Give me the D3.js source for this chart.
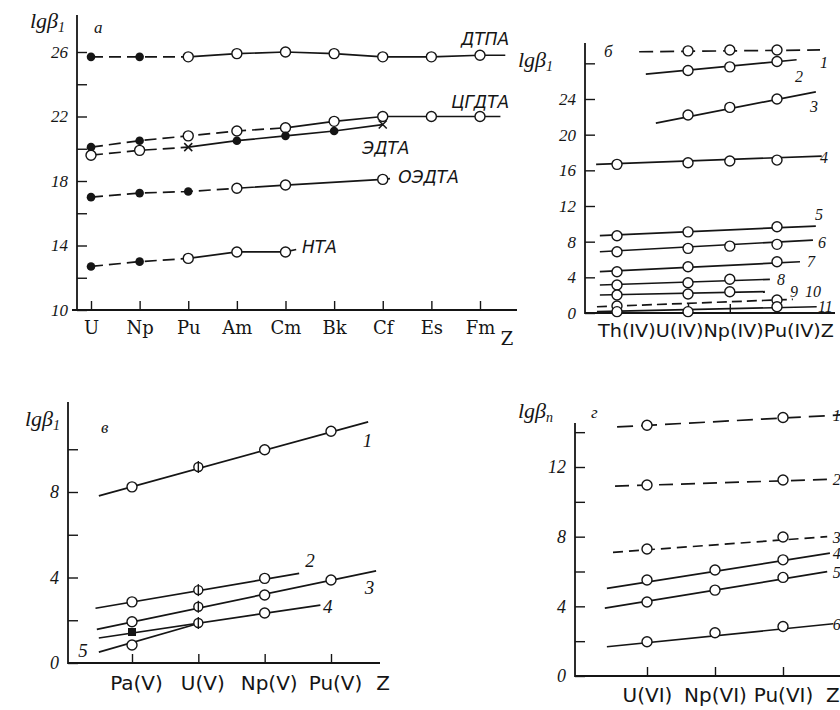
<!DOCTYPE html>
<html><head><meta charset="utf-8">
<script src="https://cdn.jsdelivr.net/npm/d3@7/dist/d3.min.js"></script>
<style>
body{margin:0;background:#fff;}
svg{display:block;background:#fff;}
</style></head><body>
<svg id="c" width="840" height="710"></svg>
<script>
// ---------- DATA ----------
// Panel а: trivalent actinides
const catsA = ["U","Np","Pu","Am","Cm","Bk","Cf","Es","Fm"];
const namesA = ["ДТПА","ЦГДТА","ЭДТА","ОЭДТА","НТА"];
const valuesA = [
  [25.7,25.7,25.7,25.9,26.0,25.9,25.7,25.7,25.8],
  [20.1,20.5,20.8,21.1,21.3,21.7,22.0,22.0,22.0],
  [19.6,19.9,20.1,20.5,20.8,21.1,21.5],
  [17.0,17.25,17.35,17.55,17.75,null,18.1],
  [12.7,13.0,13.2,13.6,13.6]
];
const marksA = [
  ["f","f","o","o","o","o","o","o","o"],
  ["f","f","o","o","o","o","o","o","o"],
  ["o","o","x","f","f","f","x"],
  ["f","f","f","o","o",null,"o"],
  ["f","f","o","o","o"]
];
const dashedUpToA = [2,4,2,3,2];
const tailA = [[8.52,25.8],[8.42,22.0],null,[6.15,18.15],[4.22,13.75]];

// Panel б: tetravalent actinides
const catsB = ["Th(IV)","U(IV)","Np(IV)","Pu(IV)"];
const posB = [0,1.7,2.7,3.83];
const namesB = ["1","2","3","4","5","6","7","8","9","10","11"];
const valuesB = [
  [null,29.4,29.5,29.5],
  [null,27.2,27.6,28.2],
  [null,22.2,23.06,24.0],
  [16.67,16.85,17.04,17.15],
  [8.67,9.1,null,9.67],
  [6.87,7.25,7.5,7.7],
  [4.63,5.19,null,5.75],
  [3.14,3.4,3.78,null],
  [2.02,2.13,2.39,null],
  [0.78,null,null,1.46],
  [0.15,0.15,null,0.7]
];
const fitB = [
  [0.53,29.3,4.86,29.5],[0.69,26.8,4.3,28.4],[0.93,21.3,4.76,24.8],
  [-0.5,16.67,4.9,17.6],[-0.41,8.67,4.76,9.75],[-0.41,6.87,4.69,8.18],
  [-0.41,4.63,4.38,5.75],[-0.41,3.14,3.66,3.78],[-0.41,2.02,3.54,2.39],
  [-0.48,0.7,4.21,1.53],[-0.48,0.15,4.78,0.7]
];
const dashB = ["14,7",null,null,null,null,null,null,null,null,"10,5",null];

// Panel в: pentavalent actinides
const catsC = ["Pa(V)","U(V)","Np(V)","Pu(V)"];
const namesC = ["1","2","3","4","5"];
const valuesC = [
  [8.24,9.17,9.98,10.84],
  [2.86,3.41,3.96,null],
  [1.93,2.63,3.18,3.88],
  [1.45,1.87,2.34,null],
  [0.84,null,null,null]
];
const marksC = [
  ["o","p","o","o"],["o","p","o",null],["o","p","o","o"],["s","p","o",null],["o",null,null,null]
];
const fitC = [
  [-0.5,7.82,3.56,11.28],[-0.55,2.56,2.52,4.19],[-0.53,1.57,3.68,4.31],
  [-0.5,1.17,2.84,2.71],[-0.5,0.51,1.0,1.85]
];

// Panel г: hexavalent actinides
const catsD = ["U(VI)","Np(VI)","Pu(VI)"];
const namesD = ["1","2","3","4","5","6"];
const valuesD = [
  [14.4,null,14.84],
  [10.97,null,11.25],
  [7.29,null,7.98],
  [5.51,6.09,6.67],
  [4.25,4.93,5.66],
  [1.97,2.48,2.84]
];
const fitD = [
  [-0.44,14.3,2.9,15.0],[-0.47,10.9,2.74,11.3],[-0.5,7.1,2.65,8.0],
  [-0.59,5.03,2.69,7.05],[-0.62,3.9,2.65,5.99],[-0.59,1.68,2.74,3.0]
];
const dashD = ["16,8","14,8","10,6",null,null,null];

// ---------- LAYOUT ----------
const INK = "#151515";
const SERIF = "'Liberation Serif', 'Times New Roman', serif";
const svg = d3.select("#c");

function setFont(sel, family, size, italic) {
  sel.style("font-family", family).style("font-size", size + "px")
     .style("font-style", italic ? "italic" : "normal").style("fill", INK);
  return sel;
}
function drawYAxis(scale, x0, top, ticks, labelled, fs) {
  const g = svg.append("g").attr("transform", `translate(${x0},0)`);
  g.call(d3.axisLeft(scale).tickValues(ticks).tickSizeInner(-10).tickSizeOuter(0).tickPadding(9)
    .tickFormat(d => labelled.indexOf(d) >= 0 ? String(d) : ""));
  g.select(".domain").remove();
  g.selectAll(".tick line").attr("stroke", INK).attr("stroke-width", 1.4);
  setFont(g.selectAll(".tick text"), SERIF, fs, true);
  svg.append("line").attr("x1", x0).attr("x2", x0).attr("y1", top)
    .attr("y2", scale(scale.domain()[0]) + 1).attr("stroke", INK).attr("stroke-width", 1.8);
}
function drawXAxis(scale, y0, xa, xb, tickVals, labels, fs, family, pad, dx) {
  const g = svg.append("g").attr("transform", `translate(0,${y0})`);
  g.call(d3.axisBottom(scale).tickValues(tickVals).tickSizeInner(-9).tickSizeOuter(0).tickPadding(pad)
    .tickFormat((d, i) => labels ? labels[i] : ""));
  g.select(".domain").remove();
  g.selectAll(".tick line").attr("stroke", INK).attr("stroke-width", 1.4);
  setFont(g.selectAll(".tick text"), family, fs, false).attr("dx", dx || 0);
  svg.append("line").attr("x1", xa).attr("x2", xb).attr("y1", y0).attr("y2", y0)
    .attr("stroke", INK).attr("stroke-width", 1.8);
}
function yTitle(x, y, sub) {
  const t = svg.append("text").attr("x", x).attr("y", y);
  setFont(t, SERIF, 22, true);
  t.append("tspan").text("lgβ");
  t.append("tspan").attr("dy", 4).style("font-size", "14px").text(sub);
}
function txt(x, y, s, fs, opts) {
  opts = opts || {};
  const t = svg.append("text").attr("x", x).attr("y", y)
    .attr("text-anchor", opts.anchor || "start").text(s);
  setFont(t, opts.family || SERIF, fs, opts.italic !== false);
  return t;
}
function marker(x, y, type) {
  if (!type) return;
  if (type === "o") {
    svg.append("circle").attr("cx", x).attr("cy", y).attr("r", 5)
      .attr("fill", "#fff").attr("stroke", INK).attr("stroke-width", 1.4);
  } else if (type === "f") {
    svg.append("circle").attr("cx", x).attr("cy", y).attr("r", 4.3).attr("fill", INK);
  } else if (type === "x") {
    svg.append("path").attr("d", `M${x-4},${y-4}L${x+4},${y+4}M${x-4},${y+4}L${x+4},${y-4}`)
      .attr("stroke", INK).attr("stroke-width", 1.5);
  } else if (type === "p") {
    svg.append("circle").attr("cx", x).attr("cy", y).attr("r", 4.5)
      .attr("fill", "#fff").attr("stroke", INK).attr("stroke-width", 1.4);
    svg.append("line").attr("x1", x).attr("x2", x).attr("y1", y - 6).attr("y2", y + 6)
      .attr("stroke", INK).attr("stroke-width", 1.4);
  } else if (type === "s") {
    svg.append("rect").attr("x", x - 4).attr("y", y - 4).attr("width", 8).attr("height", 8)
      .attr("fill", INK);
  }
}
function path(pts, xs, ys, dash) {
  if (pts.length < 2) return;
  svg.append("path").attr("d", d3.line().x(d => xs(d[0])).y(d => ys(d[1]))(pts))
    .attr("fill", "none").attr("stroke", INK).attr("stroke-width", 1.7)
    .attr("stroke-dasharray", dash || null);
}

// ---------- PANEL а ----------
const xA = d3.scaleLinear().domain([0, 8]).range([91, 480]);
const yA = d3.scaleLinear().domain([10, 26]).range([310, 52]);
drawYAxis(yA, 77, 15, d3.range(10, 27, 2), [10, 14, 18, 22, 26], 17);
drawXAxis(xA, 310, 72, 517, d3.range(9), catsA, 18, "'DejaVu Serif', serif", 11);
txt(507, 332, "Z", 18, {family: "'DejaVu Serif', serif", italic: false, anchor: "middle"}).attr("dy", "0.71em");
yTitle(30, 28, "1");
txt(94, 33, "а", 17);

valuesA.forEach((vals, s) => {
  const pts = vals.map((v, i) => v == null ? null : [i, v]).filter(Boolean);
  const k = dashedUpToA[s];
  const dashPts = pts.filter(p => p[0] <= k);
  const solidPts = pts.filter(p => p[0] >= k);
  if (tailA[s]) solidPts.push(tailA[s]);
  path(dashPts, xA, yA, "12,6");
  path(solidPts, xA, yA, null);
});
valuesA.forEach((vals, s) => {
  vals.forEach((v, i) => { if (v != null) marker(xA(i), yA(v), marksA[s][i]); });
});
const labPosA = [[8.6, 26.45, "end"], [8.6, 22.53, "end"], [5.58, 19.67, "start"], [6.32, 17.88, "start"], [4.34, 13.53, "start"]];
namesA.forEach((n, s) => {
  const p = labPosA[s];
  txt(xA(p[0]), yA(p[1]), n, 17, {family: "'DejaVu Sans', sans-serif", anchor: p[2]});
});

// ---------- PANEL б ----------
const xB = d3.scaleLinear().domain([0, 3.83]).range([617, 777]);
const yB = d3.scaleLinear().domain([0, 24]).range([313, 99]);
drawYAxis(yB, 585, 43, d3.range(0, 29, 4), [0, 4, 8, 12, 16, 20, 24], 17);
drawXAxis(xB, 313, 585, 835, posB, null, 17, "'DejaVu Sans', sans-serif", 10);
txt(598, 337, catsB.join("") + "Z", 17, {family: "'DejaVu Sans', sans-serif", italic: false})
  .attr("textLength", 236).attr("lengthAdjust", "spacingAndGlyphs");
yTitle(518, 67, "1");
txt(604, 57, "б", 17);

valuesB.forEach((vals, s) => {
  const f = fitB[s];
  path([[f[0], f[1]], [f[2], f[3]]], xB, yB, dashB[s]);
});
valuesB.forEach((vals, s) => {
  vals.forEach((v, i) => { if (v != null) marker(xB(posB[i]), yB(v), "o"); });
});
const labPosB = [[4.86,27.48],[4.26,25.9],[4.62,22.54],[4.86,16.82],[4.74,10.43],[4.81,7.29],[4.55,5.16],[3.83,3.14],[4.14,1.79],[4.5,1.79],[4.81,0.11]];
namesB.forEach((n, s) => {
  txt(xB(labPosB[s][0]), yB(labPosB[s][1]), n, 16);
});

// ---------- PANEL в ----------
const xC = d3.scaleLinear().domain([0, 3]).range([132, 331]);
const yC = d3.scaleLinear().domain([0, 8]).range([663, 492]);
drawYAxis(yC, 68, 402, d3.range(0, 11, 2), [0, 4, 8], 18);
drawXAxis(xC, 663, 68, 380, [0, 1, 2, 3], catsC, 20, "'DejaVu Sans', sans-serif", 13, 4);
txt(383, 676, "Z", 20, {family: "'DejaVu Sans', sans-serif", italic: false, anchor: "middle"}).attr("dy", "0.71em");
yTitle(25, 426, "1");
txt(101, 433, "в", 17);

valuesC.forEach((vals, s) => {
  const f = fitC[s];
  path([[f[0], f[1]], [f[2], f[3]]], xC, yC, null);
});
valuesC.forEach((vals, s) => {
  vals.forEach((v, i) => { if (v != null) marker(xC(i), yC(v), marksC[s][i]); });
});
const labPosC = [[3.48,10.1],[2.61,4.49],[3.51,3.23],[2.88,2.34],[-0.81,0.28]];
namesC.forEach((n, s) => {
  txt(xC(labPosC[s][0]), yC(labPosC[s][1]), n, 19);
});

// ---------- PANEL г ----------
const xD = d3.scaleLinear().domain([0, 2]).range([647, 783]);
const yD = d3.scaleLinear().domain([0, 12]).range([676, 467]);
drawYAxis(yD, 575, 423, d3.range(0, 15, 2), [0, 4, 8, 12], 18);
drawXAxis(xD, 676, 575, 840, [0, 1, 2], catsD, 20, "'DejaVu Sans', sans-serif", 12);
txt(826, 688, "Z", 20, {family: "'DejaVu Sans', sans-serif", italic: false}).attr("dy", "0.71em");
yTitle(518, 418, "n");
txt(591, 418, "г", 17);

valuesD.forEach((vals, s) => {
  const f = fitD[s];
  path([[f[0], f[1]], [f[2], f[3]]], xD, yD, dashD[s]);
});
valuesD.forEach((vals, s) => {
  vals.forEach((v, i) => { if (v != null) marker(xD(i), yD(v), "o"); });
});
namesD.forEach((n, s) => {
  txt(xD(2.73), yD(fitD[s][3]) + 6, n, 16);
});
</script>
</body></html>
